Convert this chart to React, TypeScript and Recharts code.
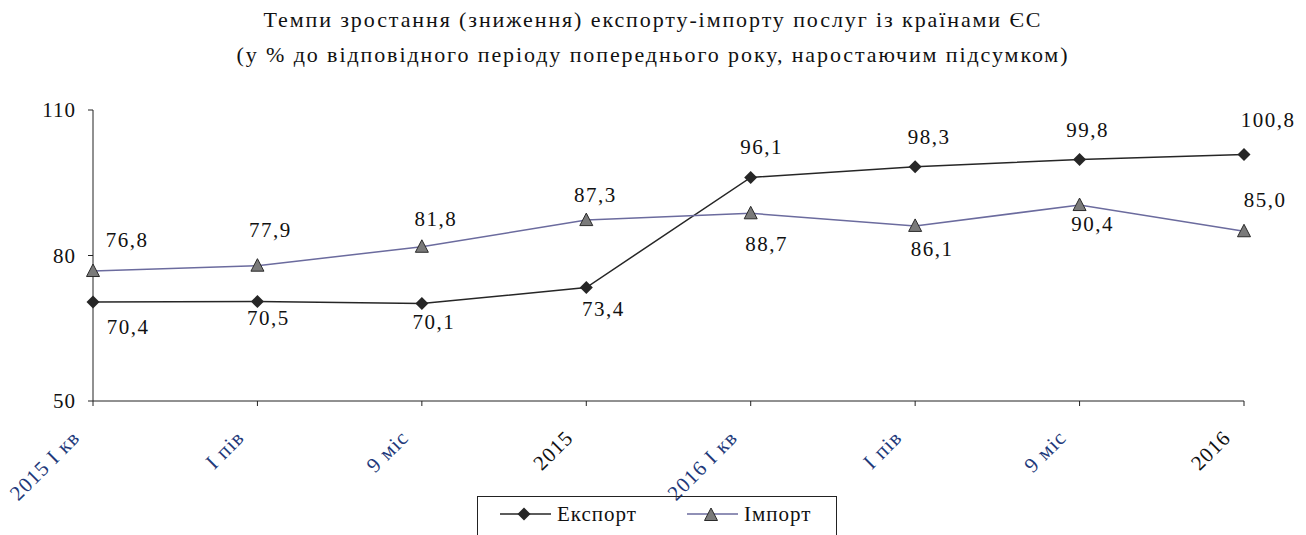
import React from "react";
import { LineChart, Line, XAxis, YAxis, LabelList } from "recharts";

const periods = ["2015 І кв", "І пів", "9 міс", "2015", "2016 І кв", "І пів", "9 міс", "2016"];
const exportValues = [70.4, 70.5, 70.1, 73.4, 96.1, 98.3, 99.8, 100.8];
const importValues = [76.8, 77.9, 81.8, 87.3, 88.7, 86.1, 90.4, 85.0];
const yTicks = [50, 80, 110];

const data = periods.map((p, i) => ({
  key: `${i}-${p}`,
  period: p,
  exp: exportValues[i],
  imp: importValues[i],
}));

const FONT = "Times New Roman, Liberation Serif, DejaVu Serif, serif";
const fmt = (v: number) => v.toFixed(1).replace(".", ",");

// hand-placed label offsets (dx, dy to baseline), as in the source chart
const EXP_LABEL_OFFSETS = [[35, 32], [11, 23], [12, 25], [17, 28], [11, -23], [14, -23], [8, -22], [24, -28]];
const IMP_LABEL_OFFSETS = [[34, -24], [13, -29], [14, -21], [9, -18], [16, 38], [17, 30], [13, 26], [21, -24]];

const Diamond = (props: any) => {
  const { cx, cy } = props;
  if (cx == null || cy == null) return null;
  return <path d={`M${cx},${cy - 6.5} L${cx + 6.5},${cy} L${cx},${cy + 6.5} L${cx - 6.5},${cy} Z`} fill="#262626" />;
};

const Triangle = (props: any) => {
  const { cx, cy } = props;
  if (cx == null || cy == null) return null;
  return (
    <path
      d={`M${cx},${cy - 7} L${cx + 6.5},${cy + 5.5} L${cx - 6.5},${cy + 5.5} Z`}
      fill="#7a7a7a"
      stroke="#2a2a2a"
      strokeWidth={1}
    />
  );
};

const makeLabel = (offsets: number[][]) => (props: any) => {
  const { x, y, value, index } = props;
  const [dx, dy] = offsets[index] ?? [0, -20];
  return (
    <text
      x={x + dx}
      y={y + dy}
      textAnchor="middle"
      fontFamily={FONT}
      fontSize={21}
      letterSpacing={1.5}
      fill="#111"
    >
      {fmt(value)}
    </text>
  );
};

const XTick = (props: any) => {
  const { x, y, payload } = props;
  const label = periods[payload.index] ?? payload.value;
  const isYear = /^\d+$/.test(label);
  return (
    <g transform={`translate(${x - 12},${y + 33})`}>
      <text
        textAnchor="end"
        transform="rotate(-45)"
        fontFamily={FONT}
        fontSize={21}
        letterSpacing={1}
        fill={isYear ? "#111" : "#22397a"}
      >
        {label}
      </text>
    </g>
  );
};

export default function App() {
  return (
    <div style={{ position: "absolute", left: 0, top: 0, width: 1306, height: 535, background: "#fff", fontFamily: FONT }}>
      <div
        style={{
          position: "absolute",
          left: 0,
          top: 2,
          width: 1306,
          textAlign: "center",
          fontSize: 22,
          letterSpacing: 1.9,
          lineHeight: "35px",
          color: "#111",
        }}
      >
        Темпи зростання (зниження) експорту-імпорту послуг із країнами ЄС
        <br />
        (у % до відповідного періоду попереднього року, наростаючим підсумком)
      </div>
      <LineChart
        width={1306}
        height={535}
        data={data}
        margin={{ top: 110, right: 62, bottom: 74, left: 33 }}
        style={{ position: "absolute", left: 0, top: 0 }}
      >
        <XAxis
          dataKey="key"
          tick={<XTick />}
          tickSize={5}
          tickMargin={0}
          height={60}
          axisLine={{ stroke: "#222" }}
          tickLine={{ stroke: "#222" }}
          interval={0}
        />
        <YAxis
          domain={[50, 110]}
          ticks={yTicks}
          width={60}
          tickSize={5}
          tickMargin={12}
          axisLine={{ stroke: "#222" }}
          tickLine={{ stroke: "#222" }}
          tick={{ fill: "#111", fontSize: 21, fontFamily: FONT, letterSpacing: 1 }}
        />
        <Line
          dataKey="exp"
          stroke="#262626"
          strokeWidth={1.5}
          dot={<Diamond />}
          activeDot={false}
          isAnimationActive={false}
        >
          <LabelList dataKey="exp" content={makeLabel(EXP_LABEL_OFFSETS)} />
        </Line>
        <Line
          dataKey="imp"
          stroke="#6b6b9e"
          strokeWidth={1.5}
          dot={<Triangle />}
          activeDot={false}
          isAnimationActive={false}
        >
          <LabelList dataKey="imp" content={makeLabel(IMP_LABEL_OFFSETS)} />
        </Line>
      </LineChart>
      <div
        style={{
          position: "absolute",
          left: 477,
          top: 496,
          width: 358,
          height: 45,
          border: "1px solid #222",
        }}
      >
        <svg width={358} height={40} style={{ position: "absolute", left: 0, top: 0 }}>
          <line x1={22} x2={73} y1={17} y2={17} stroke="#262626" strokeWidth={1.5} />
          <Diamond cx={46} cy={17} />
          <line x1={209} x2={260} y1={17} y2={17} stroke="#6b6b9e" strokeWidth={1.5} />
          <Triangle cx={233} cy={18} />
          <text x={79} y={24} fontFamily={FONT} fontSize={21} letterSpacing={1} fill="#111">Експорт</text>
          <text x={266} y={24} fontFamily={FONT} fontSize={21} letterSpacing={1} fill="#111">Імпорт</text>
        </svg>
      </div>
    </div>
  );
}
